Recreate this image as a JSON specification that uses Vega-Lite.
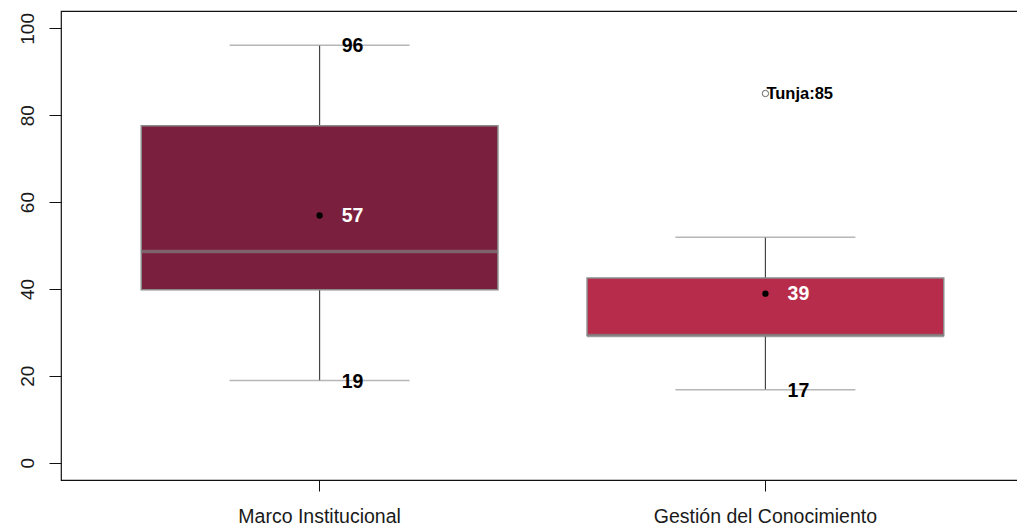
{
  "$schema": "https://vega.github.io/schema/vega-lite/v6.json",
  "width": 963,
  "height": 469,
  "autosize": "none",
  "padding": {"left": 61, "top": 11, "right": 0, "bottom": 47},
  "background": "white",
  "config": {
    "view": {"stroke": "#111111", "strokeWidth": 1.2},
    "font": "Liberation Sans"
  },
  "data": {
    "values": [
      {"grupo": "Marco Institucional", "min": 18.9, "q1": 39.8, "median": 48.6, "q3": 77.6, "max": 96.1, "mean": 56.9, "mean_label": "57", "min_label": "19", "max_label": "96"},
      {"grupo": "Gestión del Conocimiento", "min": 16.8, "q1": 29.3, "median": 29.3, "q3": 42.5, "max": 51.9, "mean": 38.9, "mean_label": "39", "min_label": "17", "max_label": ""}
    ]
  },
  "encoding": {
    "x": {
      "field": "grupo",
      "type": "nominal",
      "sort": null,
      "scale": {"paddingInner": 0.2, "paddingOuter": 0.18},
      "axis": {
        "title": null,
        "domain": false,
        "tickSize": 11,
        "tickColor": "#111111",
        "labelAngle": 0,
        "labelFontSize": 19.5,
        "labelLimit": 500,
        "labelColor": "#1a1a1a",
        "labelPadding": 16
      }
    }
  },
  "layer": [
    {
      "mark": {"type": "rule", "color": "#444444", "strokeWidth": 1.2},
      "encoding": {
        "y": {
          "field": "min",
          "type": "quantitative",
          "scale": {"domain": [-4, 104], "nice": false, "zero": false},
          "axis": {
            "title": null,
            "grid": false,
            "domain": false,
            "values": [0, 20, 40, 60, 80, 100],
            "tickSize": 12,
            "tickColor": "#111111",
            "labelAngle": -90,
            "labelAlign": "center",
            "labelBaseline": "bottom",
            "labelFontSize": 19,
            "labelColor": "#1a1a1a",
            "labelPadding": 12
          }
        },
        "y2": {"field": "max"}
      }
    },
    {
      "mark": {"type": "tick", "color": "#999999", "size": 180, "thickness": 1.5},
      "encoding": {"y": {"field": "min", "type": "quantitative"}}
    },
    {
      "mark": {"type": "tick", "color": "#999999", "size": 180, "thickness": 1.5},
      "encoding": {"y": {"field": "max", "type": "quantitative"}}
    },
    {
      "mark": {"type": "bar", "stroke": "#8a8a8a", "strokeWidth": 1.5},
      "encoding": {
        "y": {"field": "q1", "type": "quantitative"},
        "y2": {"field": "q3"},
        "color": {
          "field": "grupo",
          "type": "nominal",
          "scale": {"domain": ["Marco Institucional", "Gestión del Conocimiento"], "range": ["#7B1F3F", "#B82C4B"]},
          "legend": null
        }
      }
    },
    {
      "mark": {"type": "tick", "color": "#808080", "size": 357, "thickness": 3.5},
      "encoding": {"y": {"field": "median", "type": "quantitative"}}
    },
    {
      "mark": {"type": "point", "shape": "circle", "filled": true, "color": "black", "size": 40, "opacity": 1},
      "encoding": {"y": {"field": "mean", "type": "quantitative"}}
    },
    {
      "mark": {"type": "text", "color": "white", "fontWeight": "bold", "fontSize": 19.5, "dx": 33, "align": "center", "baseline": "middle"},
      "encoding": {"y": {"field": "mean", "type": "quantitative"}, "text": {"field": "mean_label"}}
    },
    {
      "mark": {"type": "text", "color": "black", "fontWeight": "bold", "fontSize": 19.5, "dx": 33, "dy": 1, "align": "center", "baseline": "middle"},
      "encoding": {"y": {"field": "min", "type": "quantitative"}, "text": {"field": "min_label"}}
    },
    {
      "mark": {"type": "text", "color": "black", "fontWeight": "bold", "fontSize": 19.5, "dx": 33, "dy": 1, "align": "center", "baseline": "middle"},
      "encoding": {"y": {"field": "max", "type": "quantitative"}, "text": {"field": "max_label"}}
    },
    {
      "data": {"values": [{"grupo": "Gestión del Conocimiento", "valor": 85, "etiqueta": "Tunja:85"}]},
      "layer": [
        {
          "mark": {"type": "point", "shape": "circle", "filled": false, "color": "#666666", "size": 40, "strokeWidth": 1, "opacity": 1},
          "encoding": {"y": {"field": "valor", "type": "quantitative"}}
        },
        {
          "mark": {"type": "text", "color": "black", "fontWeight": "bold", "fontSize": 16.5, "dx": 1, "align": "left", "baseline": "middle"},
          "encoding": {"y": {"field": "valor", "type": "quantitative"}, "text": {"field": "etiqueta"}}
        }
      ]
    }
  ]
}
